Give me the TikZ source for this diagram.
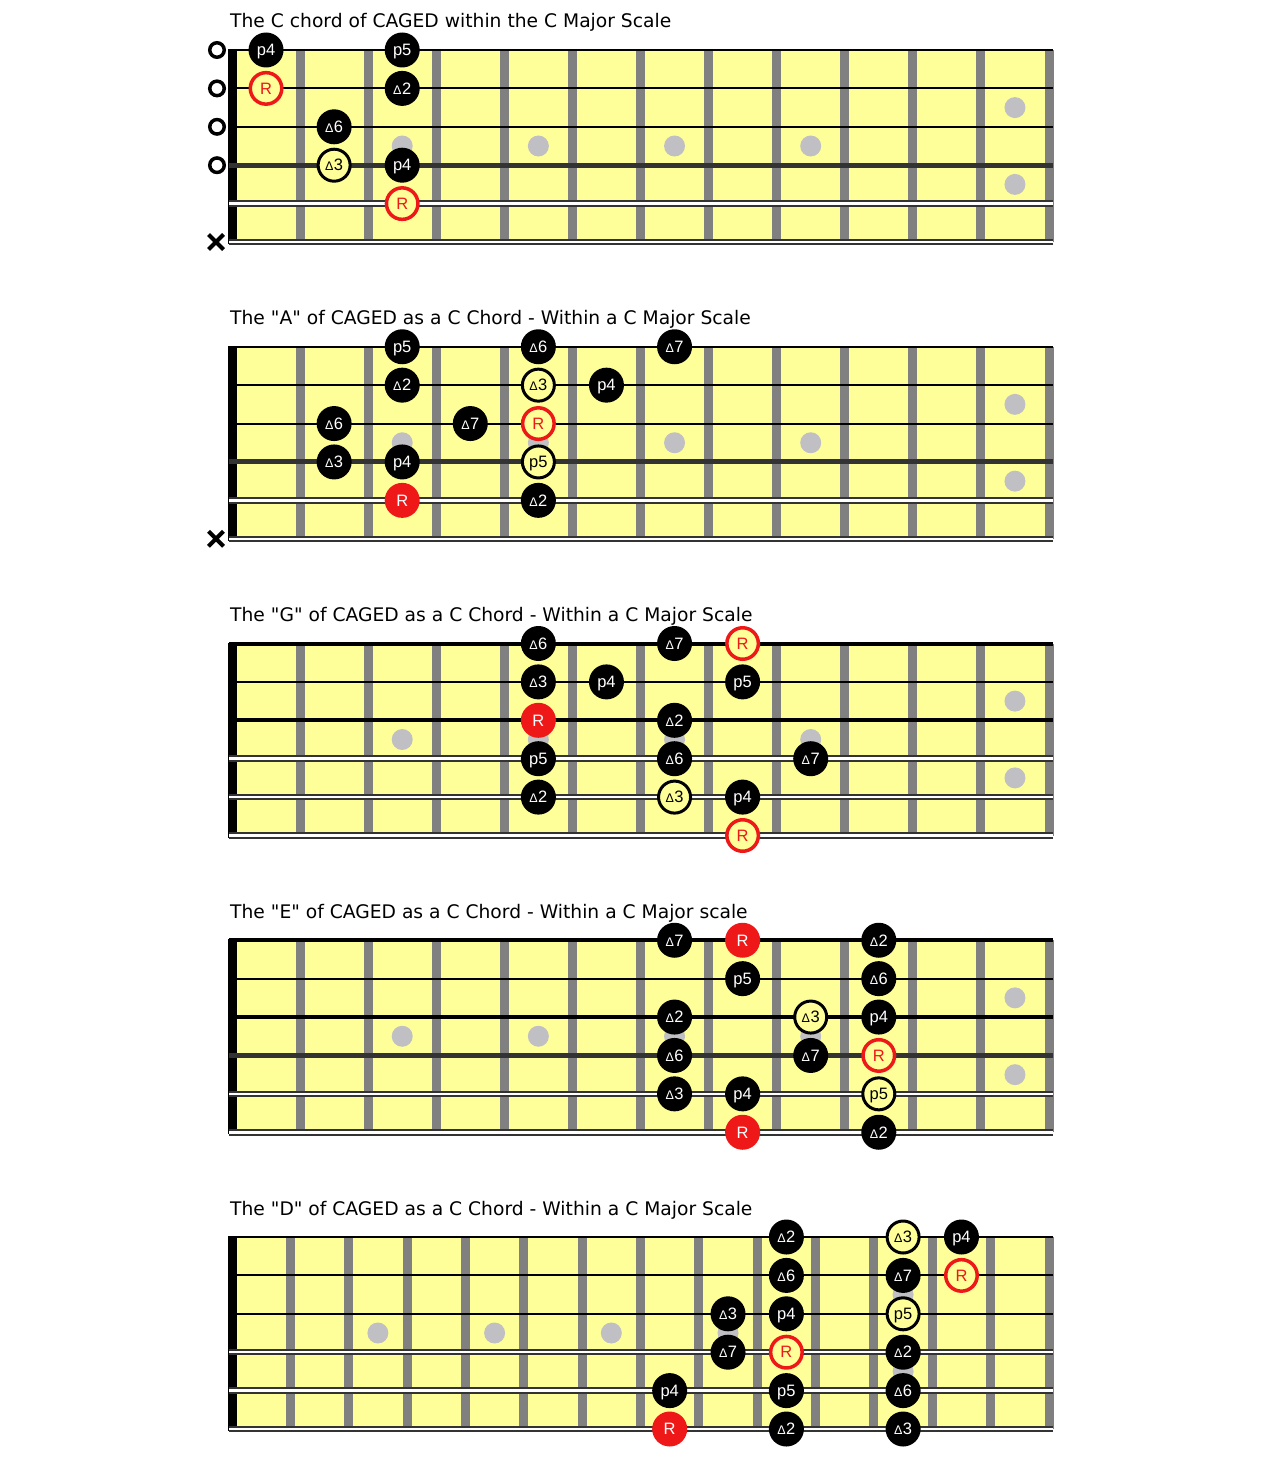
\documentclass[tikz,border=0pt]{standalone}
\usepackage{fontspec}
\setmainfont{DejaVu Sans}[Ligatures=TeXOff]
\newfontfamily\lblfont{Liberation Sans}
\usetikzlibrary{shapes.misc}
\definecolor{boardy}{RGB}{255,255,153}
\definecolor{fretg}{RGB}{128,128,128}
\definecolor{dotg}{RGB}{192,192,196}
\definecolor{rootr}{RGB}{238,24,24}
\definecolor{strdark}{RGB}{51,51,51}
\newcommand\tri{{\fontsize{12.5}{12.5}\selectfont Δ}\kern0.5pt}
\tikzset{
  note/.style={circle, inner sep=0pt, minimum size=35pt, text height=11.5pt, text depth=0pt,
    font=\lblfont\fontsize{16.5}{16.5}\selectfont},
  blk/.style={note, fill=black, text=white},
  rfill/.style={note, fill=rootr, text=white},
  rring/.style={note, minimum size=31.5pt, draw=rootr, line width=3.5pt, fill=boardy, text=rootr},
  yring/.style={note, minimum size=32pt, draw=black, line width=3pt, fill=boardy, text=black},
  thinstr/.style={line width=2pt, draw=black},
  thickstr/.style={line width=4pt, draw=black},
  darkstr/.style={line width=5pt, draw=strdark},
  woundstr/.style={line width=2pt, draw=strdark, double=white, double distance=2.5pt},
  opencirc/.style={circle, draw=black, line width=3.5pt, minimum size=14.5pt, inner sep=0pt},
  mute/.style={cross out, draw=black, line width=4pt, minimum size=11pt, inner sep=0pt},
  title/.style={anchor=base west, font=\fontsize{18.7}{18.7}\selectfont, inner sep=0pt},
}
% note: style, string, fret, label
\newcommand\nt[4]{\node[#1] (d\dn s#2f#3) at ({232+(#3-0.5)*\fs},{(#2-1)*38.4}) {#4};}
\newcommand\strg[2]{\draw[#1] (229,{(#2-1)*38.4}) -- (1053,{(#2-1)*38.4});}
\newcommand\fbase[1]{%
  \fill[boardy] (228,0) rectangle (1053,192);
  \foreach \k in {1,...,#1} {\fill[fretg] ({232+\k*\fs-4.5},0) rectangle ({232+\k*\fs+4.5},192);}
}
\newcommand\fnut{\fill[black] (228,-1) rectangle (237,194);}
\newcommand\inl[1]{\fill[dotg] ({232+(#1-0.5)*\fs},96) circle (10.5);}
\newcommand\inld[1]{\fill[dotg] ({232+(#1-0.5)*\fs},57.6) circle (10.5);
  \fill[dotg] ({232+(#1-0.5)*\fs},134.4) circle (10.5);}
\newcommand\inlays{\inl{3}\inl{5}\inl{7}\inl{9}\inld{12}}
\newcommand\opn[1]{\node[opencirc] (d\dn open#1) at (217,{(#1-1)*38.4}) {};}
\newcommand\mut[1]{\node[mute] (d\dn mute#1) at (216,{(#1-1)*38.4}) {};}

\begin{document}
\begin{tikzpicture}[x=1pt,y=-1pt]
\path[use as bounding box] (0,0) rectangle (1267,1461);

% ---------------- Diagram 1
\begin{scope}[shift={(0,50)}]
\def\dn{1}\def\fs{68.0833}
\node[title] (title1) at (230,-22) {The C chord of CAGED within the C Major Scale};
\fbase{12}\inlays\fnut
\strg{thinstr}{1}\strg{thinstr}{2}\strg{thinstr}{3}\strg{darkstr}{4}\strg{woundstr}{5}\strg{woundstr}{6}
\opn{1}\opn{2}\opn{3}\opn{4}\mut{6}
\nt{blk}{1}{1}{p4}\nt{blk}{1}{3}{p5}
\nt{rring}{2}{1}{R}\nt{blk}{2}{3}{\tri2}
\nt{blk}{3}{2}{\tri6}
\nt{yring}{4}{2}{\tri3}\nt{blk}{4}{3}{p4}
\nt{rring}{5}{3}{R}
\end{scope}

% ---------------- Diagram 2
\begin{scope}[shift={(0,346.75)}]
\def\dn{2}\def\fs{68.0833}
\node[title] (title2) at (230,-22) {The "A" of CAGED as a C Chord - Within a C Major Scale};
\fbase{12}\inlays\fnut
\strg{thinstr}{1}\strg{thinstr}{2}\strg{thinstr}{3}\strg{darkstr}{4}\strg{woundstr}{5}\strg{woundstr}{6}
\mut{6}
\nt{blk}{1}{3}{p5}\nt{blk}{1}{5}{\tri6}\nt{blk}{1}{7}{\tri7}
\nt{blk}{2}{3}{\tri2}\nt{yring}{2}{5}{\tri3}\nt{blk}{2}{6}{p4}
\nt{blk}{3}{2}{\tri6}\nt{blk}{3}{4}{\tri7}\nt{rring}{3}{5}{R}
\nt{blk}{4}{2}{\tri3}\nt{blk}{4}{3}{p4}\nt{yring}{4}{5}{p5}
\nt{rfill}{5}{3}{R}\nt{blk}{5}{5}{\tri2}
\end{scope}

% ---------------- Diagram 3
\begin{scope}[shift={(0,643.5)}]
\def\dn{3}\def\fs{68.0833}
\node[title] (title3) at (230,-22) {The "G" of CAGED as a C Chord - Within a C Major Scale};
\fbase{12}\inlays\fnut
\strg{thickstr}{1}\strg{thinstr}{2}\strg{thickstr}{3}\strg{woundstr}{4}\strg{woundstr}{5}\strg{woundstr}{6}
\nt{blk}{1}{5}{\tri6}\nt{blk}{1}{7}{\tri7}\nt{rring}{1}{8}{R}
\nt{blk}{2}{5}{\tri3}\nt{blk}{2}{6}{p4}\nt{blk}{2}{8}{p5}
\nt{rfill}{3}{5}{R}\nt{blk}{3}{7}{\tri2}
\nt{blk}{4}{5}{p5}\nt{blk}{4}{7}{\tri6}\nt{blk}{4}{9}{\tri7}
\nt{blk}{5}{5}{\tri2}\nt{yring}{5}{7}{\tri3}\nt{blk}{5}{8}{p4}
\nt{rring}{6}{8}{R}
\end{scope}

% ---------------- Diagram 4
\begin{scope}[shift={(0,940.25)}]
\def\dn{4}\def\fs{68.0833}
\node[title] (title4) at (230,-22) {The "E" of CAGED as a C Chord - Within a C Major scale};
\fbase{12}\inlays\fnut
\strg{thickstr}{1}\strg{thinstr}{2}\strg{thickstr}{3}\strg{darkstr}{4}\strg{woundstr}{5}\strg{woundstr}{6}
\nt{blk}{1}{7}{\tri7}\nt{rfill}{1}{8}{R}\nt{blk}{1}{10}{\tri2}
\nt{blk}{2}{8}{p5}\nt{blk}{2}{10}{\tri6}
\nt{blk}{3}{7}{\tri2}\nt{yring}{3}{9}{\tri3}\nt{blk}{3}{10}{p4}
\nt{blk}{4}{7}{\tri6}\nt{blk}{4}{9}{\tri7}\nt{rring}{4}{10}{R}
\nt{blk}{5}{7}{\tri3}\nt{blk}{5}{8}{p4}\nt{yring}{5}{10}{p5}
\nt{rfill}{6}{8}{R}\nt{blk}{6}{10}{\tri2}
\end{scope}

% ---------------- Diagram 5
\begin{scope}[shift={(0,1237)}]
\def\dn{5}\def\fs{58.357}
\node[title] (title5) at (230,-22) {The "D" of CAGED as a C Chord - Within a C Major Scale};
\fbase{14}\inlays\fnut
\strg{thinstr}{1}\strg{thinstr}{2}\strg{thinstr}{3}\strg{woundstr}{4}\strg{woundstr}{5}\strg{woundstr}{6}
\nt{blk}{1}{10}{\tri2}\nt{yring}{1}{12}{\tri3}\nt{blk}{1}{13}{p4}
\nt{blk}{2}{10}{\tri6}\nt{blk}{2}{12}{\tri7}\nt{rring}{2}{13}{R}
\nt{blk}{3}{9}{\tri3}\nt{blk}{3}{10}{p4}\nt{yring}{3}{12}{p5}
\nt{blk}{4}{9}{\tri7}\nt{rring}{4}{10}{R}\nt{blk}{4}{12}{\tri2}
\nt{blk}{5}{8}{p4}\nt{blk}{5}{10}{p5}\nt{blk}{5}{12}{\tri6}
\nt{rfill}{6}{8}{R}\nt{blk}{6}{10}{\tri2}\nt{blk}{6}{12}{\tri3}
\end{scope}
\end{tikzpicture}
\end{document}
